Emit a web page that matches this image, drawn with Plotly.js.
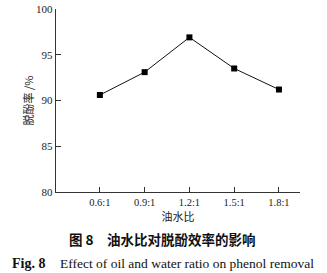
<!DOCTYPE html>
<html>
<head>
<meta charset="utf-8">
<script src="https://cdn.plot.ly/plotly-3.0.1.min.js"></script>
<style>html,body{margin:0;padding:0;background:#fff;}#chart{width:327px;height:273px;}</style>
</head>
<body>
<div id="chart"></div>
<script>
const categories = ["0.6:1", "0.9:1", "1.2:1", "1.5:1", "1.8:1"];
const removalRate = [90.6, 93.1, 96.9, 93.5, 91.2];
const yTicks = [80, 85, 90, 95, 100];

const serif = "Liberation Serif, Times New Roman, serif";
const cjk = "Noto Sans CJK SC, sans-serif";

const trace = {
  x: categories.map((c, i) => i),
  y: removalRate,
  mode: "lines+markers",
  type: "scatter",
  line: {color: "#111", width: 1},
  marker: {symbol: "square", size: 6, color: "#000"},
  showlegend: false,
  hoverinfo: "skip"
};

const layout = {
  width: 327, height: 273,
  margin: {l: 56, r: 27, t: 9, b: 81},
  paper_bgcolor: "#fff", plot_bgcolor: "#fff",
  xaxis: {
    range: [-0.98, 4.47],
    tickvals: categories.map((c, i) => i),
    ticktext: categories,
    ticks: "inside", ticklen: 5, tickcolor: "#333", tickwidth: 1,
    showline: true, linecolor: "#333", linewidth: 1.2,
    showgrid: false, zeroline: false,
    tickfont: {family: serif, size: 10.5, color: "#222"},
    title: {text: "油水比", font: {family: cjk, size: 11, color: "#222"}, standoff: 2}
  },
  yaxis: {
    range: [80, 100],
    tickvals: yTicks,
    ticks: "inside", ticklen: 5, tickcolor: "#333", tickwidth: 1,
    showline: true, linecolor: "#333", linewidth: 1.2,
    showgrid: false, zeroline: false,
    tickfont: {family: serif, size: 11, color: "#222"},
    title: {text: "脱酚率 /%", font: {family: cjk, size: 11, color: "#222"}, standoff: 0}
  },
  annotations: [
    {xref: "paper", yref: "paper", x: (67 - 56) / 244, y: (192 - 239) / 183, xanchor: "left", yanchor: "middle",
     text: "<b>图 8</b>", showarrow: false, font: {family: cjk, size: 13.5, color: "#111"}},
    {xref: "paper", yref: "paper", x: (105 - 56) / 244, y: (192 - 239) / 183, xanchor: "left", yanchor: "middle",
     text: "<b>油水比对脱酚效率的影响</b>", showarrow: false, font: {family: cjk, size: 13.5, color: "#111"}},
    {xref: "paper", yref: "paper", x: (10 - 56) / 244, y: (192 - 263) / 183, xanchor: "left", yanchor: "middle",
     text: "<b>Fig. 8</b>", showarrow: false, font: {family: serif, size: 14, color: "#111"}},
    {xref: "paper", yref: "paper", x: (58 - 56) / 244, y: (192 - 263) / 183, xanchor: "left", yanchor: "middle",
     text: "Effect of oil and water ratio on phenol removal", showarrow: false, font: {family: serif, size: 13.5, color: "#111"}}
  ]
};

Plotly.newPlot("chart", [trace], layout, {displayModeBar: false, staticPlot: true});
</script>
</body>
</html>
